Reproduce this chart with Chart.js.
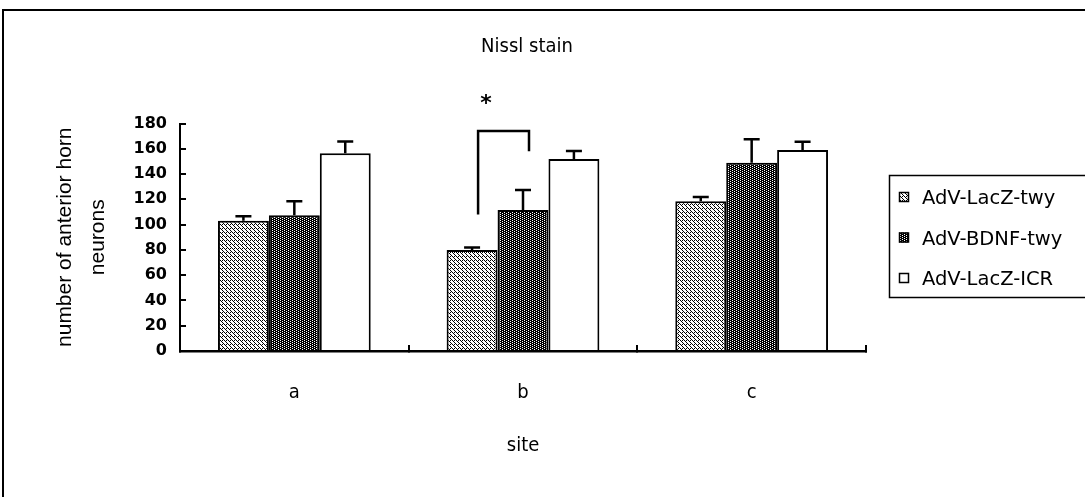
<!DOCTYPE html>
<html>
<head>
<meta charset="utf-8">
<script src="https://cdn.jsdelivr.net/npm/chart.js@4"></script>
<style>
  html, body { margin: 0; padding: 0; background: #fff; }
  #wrap { position: relative; width: 1085px; height: 497px; overflow: hidden; }
  #chartCanvas { position: absolute; left: 0; top: 0; }
  #frame { position: absolute; left: 2px; top: 9px; width: 1100px; height: 520px;
           border-left: 2px solid #000; border-top: 2px solid #000; }
</style>
</head>
<body>
<div id="wrap">
  <canvas id="chartCanvas" width="1085" height="497"></canvas>
  <div id="frame"></div>
</div>
<script>
const sites = ['a', 'b', 'c']
const seriesNames = ['AdV-LacZ-twy', 'AdV-BDNF-twy', 'AdV-LacZ-ICR']
const lacZTwy = [103, 80, 118.5]
const lacZTwyErr = [3.7, 1.8, 3.4]
const bdnfTwy = [107.5, 111.5, 149]
const bdnfTwyErr = [11, 15.8, 18.5]
const lacZIcr = [156.5, 152, 159]
const lacZIcrErr = [9.2, 6.3, 6.6]
const yMax = 180
const yStep = 20
const chartTitle = 'Nissl stain'

// significance bracket between LacZ-twy and BDNF-twy at site b
const sigSite = 'b'
const sigLevels = [108, 174, 158]   // left foot, top, right foot
const sigStarLevel = 200

const textFont = '"Liberation Sans Narrow", "DejaVu Sans Condensed", "Liberation Sans"'

function makePattern(bg, fg, dots) {
    const c = document.createElement('canvas')
    c.width = 4
    c.height = 4
    const g = c.getContext('2d')
    g.fillStyle = bg
    g.fillRect(0, 0, 4, 4)
    g.fillStyle = fg
    dots.forEach(([x, y]) => g.fillRect(x, y, 1, 1))
    return g.createPattern(c, 'repeat')
}

const lightFill = makePattern('#fff', '#000', [[0,0],[1,1],[2,2],[3,3],[2,0]])
const darkFill = makePattern('#000', '#fff', [[0,0],[2,1],[0,2],[2,3]])

const errorBars = {
    id: 'errorBars',
    afterDatasetsDraw(chart) {
        const ctx = chart.ctx
        const y = chart.scales.y
        ctx.save()
        ctx.strokeStyle = '#000'
        ctx.lineWidth = 2.5
        chart.data.datasets.forEach((ds, i) => {
            chart.getDatasetMeta(i).data.forEach((bar, j) => {
                const top = y.getPixelForValue(ds.data[j] + ds.errors[j])
                ctx.beginPath()
                ctx.moveTo(bar.x, bar.y)
                ctx.lineTo(bar.x, top)
                ctx.moveTo(bar.x - 8, top)
                ctx.lineTo(bar.x + 8, top)
                ctx.stroke()
            })
        })
        ctx.restore()
    }
}

const sigBracket = {
    id: 'sigBracket',
    afterDatasetsDraw(chart) {
        const ctx = chart.ctx
        const y = chart.scales.y
        const k = sites.indexOf(sigSite)
        const x1 = chart.getDatasetMeta(0).data[k].x + 6
        const x2 = chart.getDatasetMeta(1).data[k].x + 6
        ctx.save()
        ctx.strokeStyle = '#000'
        ctx.lineWidth = 2.5
        ctx.beginPath()
        ctx.moveTo(x1, y.getPixelForValue(sigLevels[0]))
        ctx.lineTo(x1, y.getPixelForValue(sigLevels[1]))
        ctx.lineTo(x2, y.getPixelForValue(sigLevels[1]))
        ctx.lineTo(x2, y.getPixelForValue(sigLevels[2]))
        ctx.stroke()
        ctx.fillStyle = '#000'
        ctx.font = 'bold 22px "DejaVu Sans"'
        ctx.textAlign = 'center'
        ctx.textBaseline = 'alphabetic'
        ctx.fillText('*', x1 + 8, y.getPixelForValue(sigStarLevel) + 12)
        ctx.restore()
    }
}

// title centred over the plot area, like the original
const plotTitle = {
    id: 'plotTitle',
    afterDraw(chart) {
        const ctx = chart.ctx
        const area = chart.chartArea
        ctx.save()
        ctx.fillStyle = '#000'
        ctx.font = '20px ' + textFont
        ctx.textAlign = 'center'
        ctx.textBaseline = 'middle'
        ctx.fillText(chartTitle, (area.left + area.right) / 2 + 4, 47)
        ctx.restore()
    }
}

const boxLegend = {
    id: 'boxLegend',
    afterDraw(chart) {
        const ctx = chart.ctx
        ctx.save()
        ctx.strokeStyle = '#000'
        ctx.lineWidth = 1.5
        ctx.strokeRect(889.5, 175.5, 220, 122)
        ctx.font = '19.5px "DejaVu Sans"'
        ctx.textBaseline = 'alphabetic'
        chart.data.datasets.forEach((ds, i) => {
            const base = 204 + i * 40.5
            ctx.fillStyle = ds.backgroundColor
            ctx.fillRect(899, base - 12, 10, 10)
            ctx.lineWidth = 1.5
            ctx.strokeRect(899.5, base - 11.5, 9, 9)
            ctx.fillStyle = '#000'
            ctx.fillText(ds.label, 922, base)
        })
        ctx.restore()
    }
}

const values = [lacZTwy, bdnfTwy, lacZIcr]
const errors = [lacZTwyErr, bdnfTwyErr, lacZIcrErr]
const fills = [lightFill, darkFill, '#fff']

chart = new Chart(document.getElementById('chartCanvas'), {
    type: 'bar',
    data: {
        labels: sites,
        datasets: seriesNames.map((name, i) => ({
            label: name,
            data: values[i],
            errors: errors[i],
            backgroundColor: fills[i],
            borderColor: '#000',
            borderWidth: 2,
            categoryPercentage: 0.668,
            barPercentage: 1
        }))
    },
    options: {
        responsive: false,
        animation: false,
        devicePixelRatio: 1,
        layout: { padding: { left: 0, right: 219, top: 123.5, bottom: 0 } },
        plugins: {
            legend: { display: false },
            tooltip: { enabled: false },
            title: { display: false }
        },
        scales: {
            x: {
                grid: { offset: true, drawOnChartArea: false, tickLength: -6, color: '#000', lineWidth: 2 },
                border: { color: '#000', width: 2.5 },
                ticks: { color: '#000', font: { family: textFont, size: 20 }, padding: 36 },
                title: {
                    display: true, text: 'site', color: '#000',
                    font: { family: textFont, size: 20 },
                    padding: { top: 0, bottom: 39 }
                },
                afterFit(scale) { scale.height = 146 }
            },
            y: {
                min: 0,
                max: yMax,
                ticks: { stepSize: yStep, color: '#000', font: { family: 'DejaVu Sans', size: 16, weight: 'bold' }, padding: 19 },
                grid: { drawOnChartArea: false, tickLength: -6, color: '#000', lineWidth: 2 },
                border: { color: '#000', width: 2 },
                title: {
                    display: true,
                    text: ['number of anterior horn', 'neurons'],
                    color: '#000',
                    font: { family: '"Liberation Sans"', size: 21, lineHeight: 1.57 },
                    padding: { top: 49, bottom: 0 }
                },
                afterFit(scale) { scale.width = 180 }
            }
        }
    },
    plugins: [errorBars, sigBracket, plotTitle, boxLegend]
})
</script>
</body>
</html>
